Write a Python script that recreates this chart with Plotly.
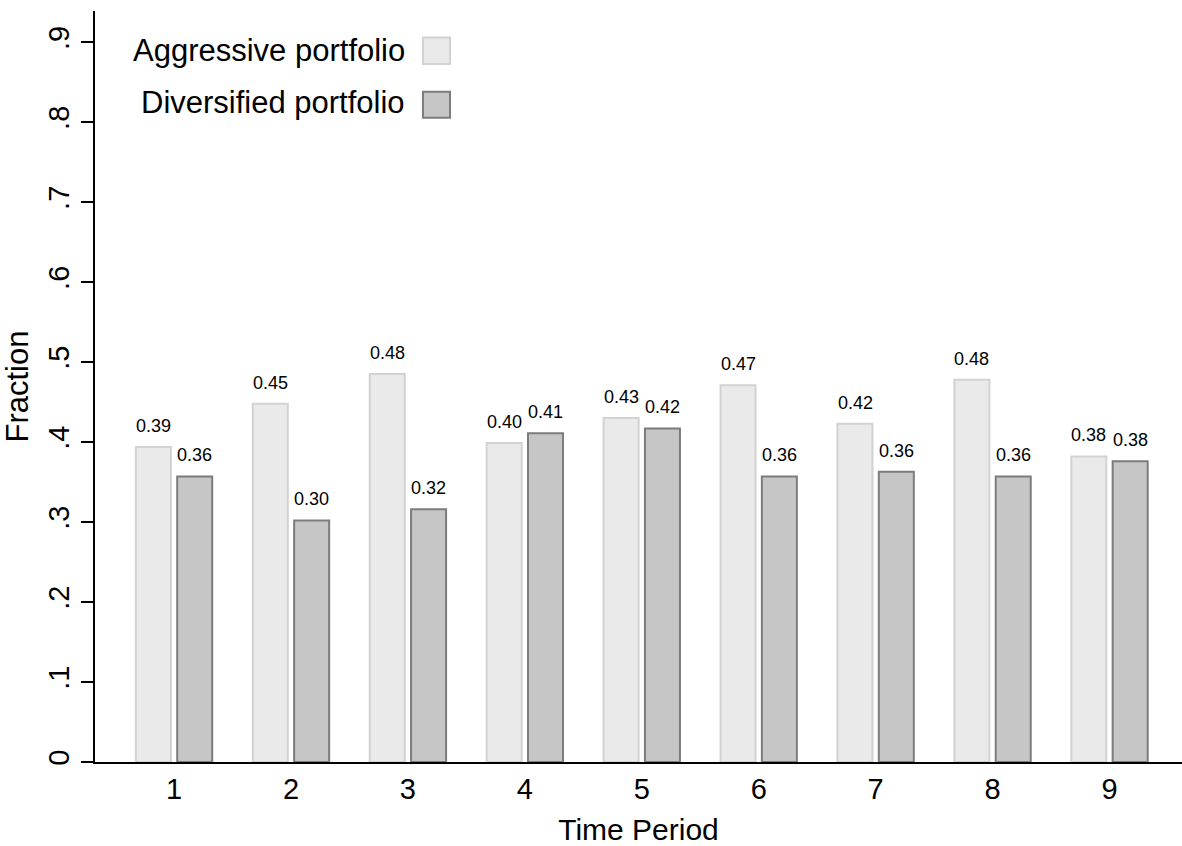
import plotly.graph_objects as go

periods = [1, 2, 3, 4, 5, 6, 7, 8, 9]
aggressive = [0.394, 0.448, 0.485, 0.399, 0.430, 0.471, 0.423, 0.478, 0.382]
diversified = [0.357, 0.302, 0.316, 0.411, 0.417, 0.357, 0.363, 0.357, 0.376]
ytick_vals = [0, 0.1, 0.2, 0.3, 0.4, 0.5, 0.6, 0.7, 0.8, 0.9]
ytick_text = ["0", ".1", ".2", ".3", ".4", ".5", ".6", ".7", ".8", ".9"]
series_names = ["Aggressive portfolio", "Diversified portfolio"]

FONT = "Liberation Sans, Arial, Helvetica, sans-serif"
A_FILL, A_LINE = "#eaeaea", "#d2d2d2"
D_FILL, D_LINE = "#c6c6c6", "#7c7c7c"

fig = go.Figure()
fig.add_trace(go.Bar(x=periods, y=aggressive, name=series_names[0],
                     marker=dict(color=A_FILL, line=dict(color=A_LINE, width=2))))
fig.add_trace(go.Bar(x=periods, y=diversified, name=series_names[1],
                     marker=dict(color=D_FILL, line=dict(color=D_LINE, width=2))))

annotations = []
for vals, shift in ((aggressive, -20.6), (diversified, 20.6)):
    for p, v in zip(periods, vals):
        annotations.append(dict(x=p, y=v, xref="x", yref="y", text=f"{v:.2f}",
                                showarrow=False, xshift=shift, yshift=9,
                                yanchor="bottom", xanchor="center",
                                font=dict(size=18, color="black", family=FONT)))

# legend (text left of swatch)
leg_rows = [(0.9470, 0.9647, 0.9293, A_FILL, A_LINE),
            (0.8788, 0.8925, 0.8579, D_FILL, D_LINE)]
shapes = []
for name, (ty, y1, y0, fc, lc) in zip(series_names, leg_rows):
    annotations.append(dict(x=0.287, y=ty, xref="paper", yref="paper", text=name,
                            showarrow=False, xanchor="right", yanchor="middle",
                            font=dict(size=31, color="black", family=FONT)))
    shapes.append(dict(type="rect", xref="paper", yref="paper",
                       x0=0.3017, x1=0.3266, y0=y0, y1=y1,
                       fillcolor=fc, line=dict(color=lc, width=2)))

fig.update_layout(
    width=1182, height=846,
    margin=dict(l=95, r=0, t=11, b=84),
    paper_bgcolor="white", plot_bgcolor="white",
    barmode="group", bargap=0.293, bargroupgap=0.153,
    showlegend=False,
    font=dict(family=FONT, color="black"),
    annotations=annotations, shapes=shapes,
)
fig.update_xaxes(range=[0.324, 9.62], tickvals=periods, showline=True,
                 linecolor="black", linewidth=2,
                 ticks="", ticklen=0, showgrid=False, zeroline=False,
                 tickfont=dict(size=29), ticklabelstandoff=0,
                 title=dict(text="Time Period", font=dict(size=30), standoff=15))
fig.update_yaxes(range=[0, 0.939], showline=True, linecolor="black", linewidth=2,
                 ticks="outside", ticklen=12, tickwidth=2, tickcolor="black",
                 tickvals=ytick_vals, ticktext=ytick_text, tickangle=-90,
                 showgrid=False, zeroline=False, tickfont=dict(size=29),
                 ticklabelstandoff=0,
                 title=dict(text="Fraction", font=dict(size=31), standoff=9))

fig.write_html("out.html", config={"displayModeBar": False},
               post_script="document.body.style.margin='0';")
